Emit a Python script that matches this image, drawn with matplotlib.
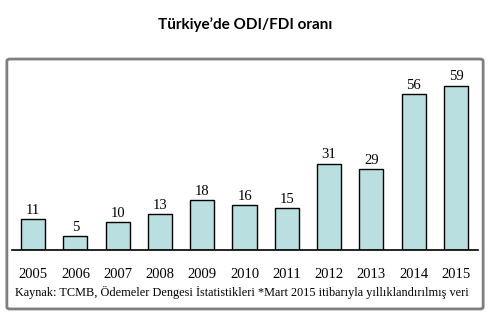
import matplotlib.pyplot as plt
from matplotlib.patches import FancyBboxPatch

# Türkiye ODI/FDI oranı (%), yıllara göre
yillar = ["2005", "2006", "2007", "2008", "2009", "2010",
          "2011", "2012", "2013", "2014", "2015"]
oran = [11, 5, 10, 13, 18, 16, 15, 31, 29, 56, 59]

fig = plt.figure(figsize=(4.91, 3.28), dpi=100)

# dış çerçeve (eksenlerin arkasında kalsın)
cerceve = FancyBboxPatch((0.014, 0.058), 0.970, 0.762,
                         boxstyle="round,pad=0,rounding_size=0.006",
                         transform=fig.transFigure, facecolor="white",
                         edgecolor="#7f7f7f", linewidth=2.0, zorder=-1)
fig.patches.append(cerceve)

fig.text(0.5, 0.925, "Türkiye’de ODI/FDI oranı", ha="center", va="center",
         fontsize=11, fontweight="bold", family="Lato")

ax = fig.add_axes([0.0244, 0.2378, 0.949, 0.552])
ax.set_facecolor("none")
x = range(len(yillar))
bars = ax.bar(x, oran, width=0.57, color="#b9dfe1", edgecolor="black",
              linewidth=1.0)
for xi, v in zip(x, oran):
    ax.text(xi, v + 0.8, str(v), ha="center", va="bottom",
            fontsize=10.5, family="Liberation Serif")

ax.set_xlim(-0.5, 10.52)
ax.set_ylim(0, 65)
ax.set_yticks([])
ax.set_xticks(list(x))
ax.set_xticklabels(yillar, fontsize=10.5, family="Liberation Serif")
ax.tick_params(axis="x", length=0, pad=13)
for s in ["top", "right", "left"]:
    ax.spines[s].set_visible(False)
ax.spines["bottom"].set_linewidth(1.2)

fig.text(0.492, 0.107,
         "Kaynak: TCMB, Ödemeler Dengesi İstatistikleri *Mart 2015 itibarıyla yıllıklandırılmış veri",
         ha="center", va="center", fontsize=8.8, family="Liberation Serif")

fig.savefig("out.png", dpi=100)
